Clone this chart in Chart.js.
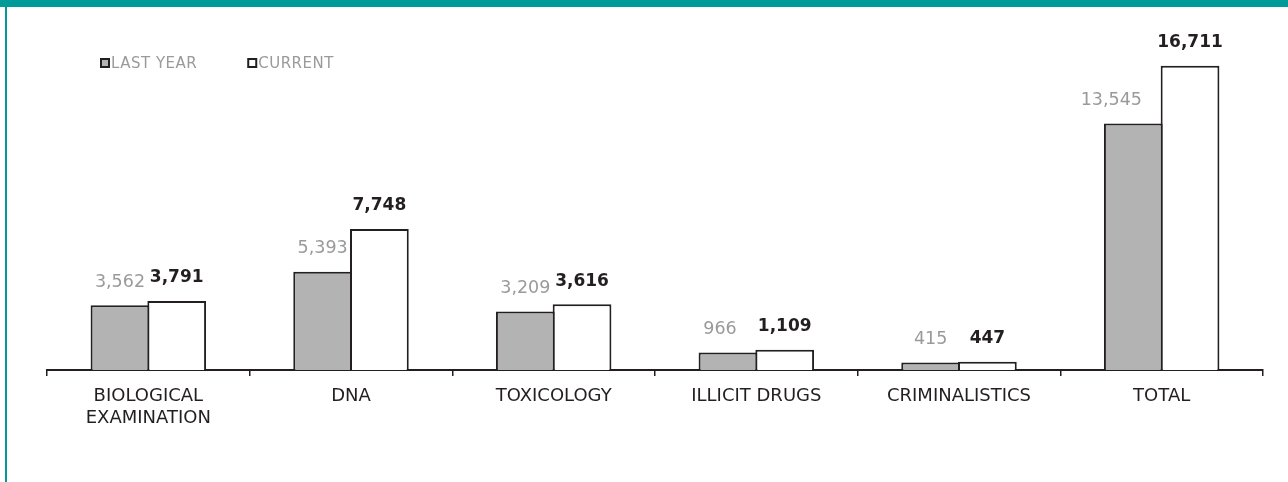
<!DOCTYPE html>
<html>
<head>
<meta charset="utf-8">
<script src="https://cdn.jsdelivr.net/npm/chart.js@4.4.1/dist/chart.umd.min.js"></script>
<style>
  html, body { margin: 0; padding: 0; background: #fff; }
  #frame { position: relative; width: 1288px; height: 482px; overflow: hidden; }
  #topBar { position: absolute; left: 0; top: 0; width: 1288px; height: 7px; background: #009a99; }
  #leftBar { position: absolute; left: 5px; top: 0; width: 2px; height: 482px; background: #009a99; }
  #wrap { position: absolute; left: 0; top: 0; width: 1288px; height: 482px; }
</style>
</head>
<body>
<div id="frame">
  <div id="wrap"><canvas id="labChart" width="1288" height="482"></canvas></div>
  <div id="topBar"></div>
  <div id="leftBar"></div>
</div>
<script>
// Categories (multi-line where the original wraps)
const categories = [
  ['BIOLOGICAL', 'EXAMINATION'],
  'DNA',
  'TOXICOLOGY',
  'ILLICIT DRUGS',
  'CRIMINALISTICS',
  'TOTAL'
];

const lastYear = [3562, 5393, 3209, 966, 415, 13545];
const current = [3791, 7748, 3616, 1109, 447, 16711];

const seriesNames = ['LAST YEAR', 'CURRENT'];

const FONT = '"DejaVu Sans", Verdana, sans-serif';
const INK = '#231f20';

// value labels above each bar
const valueLabels = {
  id: 'valueLabels',
  afterDatasetsDraw(chart) {
    const ctx = chart.ctx;
    ctx.save();
    ctx.textAlign = 'center';
    ctx.textBaseline = 'middle';
    chart.data.datasets.forEach((ds, di) => {
      const meta = chart.getDatasetMeta(di);
      ctx.font = (ds.labelBold ? 'bold 17px ' : '17.5px ') + FONT;
      ctx.fillStyle = ds.labelColor;
      meta.data.forEach((bar, i) => {
        const shift = (ds.labelShift && ds.labelShift[i]) || 0;
        ctx.fillText(ds.data[i].toLocaleString('en-US'), bar.x + shift, bar.y - 23);
      });
    });
    ctx.restore();
  }
};

// small legend in the upper left
const cornerLegend = {
  id: 'cornerLegend',
  afterDraw(chart, args, opts) {
    const ctx = chart.ctx;
    ctx.save();
    ctx.font = '15px ' + FONT;
    ctx.letterSpacing = '0.5px';
    ctx.textBaseline = 'alphabetic';
    let x = opts.x;
    chart.data.datasets.forEach(ds => {
      ctx.fillStyle = ds.backgroundColor;
      ctx.fillRect(x, opts.y, 10, 10);
      ctx.strokeStyle = INK;
      ctx.lineWidth = 2;
      ctx.strokeRect(x + 1, opts.y + 1, 8, 8);
      ctx.fillStyle = '#9a9a9a';
      ctx.fillText(ds.label, x + 11, opts.y + 10);
      x += 11 + ctx.measureText(ds.label).width + opts.gap;
    });
    ctx.restore();
  }
};

new Chart(document.getElementById('labChart'), {
  type: 'bar',
  data: {
    labels: categories,
    datasets: [
      {
        label: seriesNames[0],
        data: lastYear,
        backgroundColor: '#b3b3b3',
        borderColor: INK,
        borderWidth: 2,
        labelColor: '#9a9a9a',
        labelBold: false,
        labelShift: [0, 0, 0, -8, 0, -22]
      },
      {
        label: seriesNames[1],
        data: current,
        backgroundColor: '#ffffff',
        borderColor: INK,
        borderWidth: 2,
        labelColor: INK,
        labelBold: true
      }
    ]
  },
  options: {
    responsive: false,
    animation: false,
    layout: { padding: { top: 6, left: 47, right: 25, bottom: 0 } },
    datasets: {
      bar: { categoryPercentage: 0.56, barPercentage: 1.035 }
    },
    plugins: {
      legend: { display: false },
      tooltip: { enabled: false },
      cornerLegend: { x: 100, y: 58, gap: 50 }
    },
    scales: {
      x: {
        grid: {
          offset: true,
          drawOnChartArea: false,
          drawTicks: true,
          tickLength: 6,
          color: INK,
          lineWidth: 1.5
        },
        border: { display: true, color: INK, width: 2 },
        ticks: {
          color: INK,
          font: { family: FONT, size: 18 },
          padding: 10,
          maxRotation: 0,
          autoSkip: false
        },
        afterFit: scale => { scale.height = 112; }
      },
      y: {
        display: false,
        min: 0,
        max: 20000
      }
    }
  },
  plugins: [valueLabels, cornerLegend]
});
</script>
</body>
</html>
